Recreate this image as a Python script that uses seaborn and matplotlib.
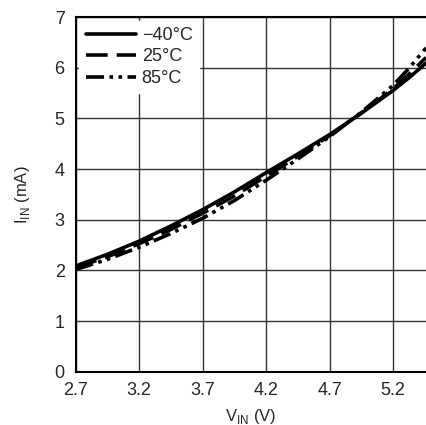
import pandas as pd
import matplotlib.pyplot as plt
import seaborn as sns
import numpy as np

# datos
vin = [2.7, 2.95, 3.2, 3.45, 3.7, 3.95, 4.2, 4.45, 4.7, 4.95, 5.2, 5.33, 5.46]
i_m40 = [2.09, 2.32, 2.58, 2.88, 3.20, 3.55, 3.93, 4.30, 4.68, 5.10, 5.55, 5.81, 6.09]
i_25 = [2.06, 2.27, 2.53, 2.81, 3.13, 3.47, 3.86, 4.25, 4.66, 5.11, 5.58, 5.88, 6.20]
i_85 = [2.02, 2.22, 2.46, 2.73, 3.03, 3.38, 3.78, 4.20, 4.64, 5.12, 5.65, 6.00, 6.39]
labels = ['\u221240\u00b0C', '25\u00b0C', '85\u00b0C']

df = pd.DataFrame({
    'vin': vin * 3,
    'iin': i_m40 + i_25 + i_85,
    'temp': np.repeat(labels, len(vin)),
})

sns.set_style('white')
plt.rcParams['font.family'] = ['Liberation Sans Narrow', 'Liberation Sans', 'DejaVu Sans']

fig = plt.figure(figsize=(4.26, 4.25), dpi=100)
ax = fig.add_axes([0.178, 0.125, 0.822, 0.835])

estilos = {labels[0]: '', labels[1]: (6, 2.5), labels[2]: (5, 1.5, 1, 1.5, 1, 1.5)}
sns.lineplot(data=df, x='vin', y='iin', hue='temp', style='temp',
             palette=['black'] * 3, dashes=estilos, linewidth=2.6, ax=ax)

ax.set_xlim(2.7, 5.46)
ax.set_ylim(0, 7)
ax.set_xticks([2.7, 3.2, 3.7, 4.2, 4.7, 5.2])
ax.set_yticks(range(0, 8))
ax.grid(True, color='#333333', linewidth=1)
for s in ax.spines.values():
    s.set_color('black')
    s.set_linewidth(1.5)
ax.spines['right'].set_visible(False)
ax.tick_params(labelsize=13, length=0)
ax.tick_params(axis='x', pad=7)
ax.tick_params(axis='y', pad=8)
ax.set_xlabel('V$_{\\mathregular{IN}}$ (V)', fontsize=12, labelpad=6)
ax.set_ylabel('I$_{\\mathregular{IN}}$ (mA)', fontsize=12, labelpad=16)

leg = ax.legend(loc='upper left', frameon=True, fontsize=13, handlelength=2.8,
                handletextpad=0.3, labelspacing=0.25, borderpad=0.35,
                borderaxespad=0.2, fancybox=False)
leg.get_frame().set_edgecolor('white')
leg.get_frame().set_alpha(1)
for h in leg.get_lines():
    h.set_linewidth(2.6)

fig.savefig('out.png', dpi=100)
